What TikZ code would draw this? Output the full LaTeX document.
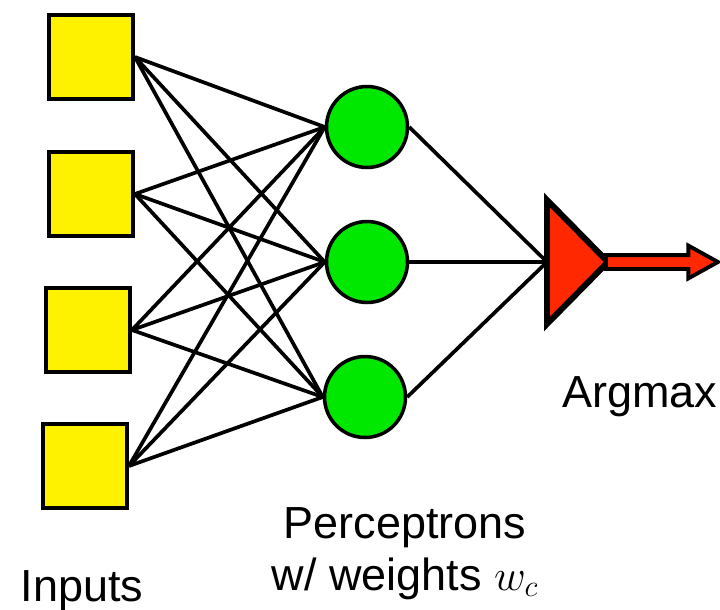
\documentclass[tikz,border=0pt]{standalone}
\usepackage{amsmath}
\usepackage{fontspec}
\setmainfont{Liberation Sans}
\usepackage{tikz}
\usetikzlibrary{shapes.geometric,shapes.arrows}
\definecolor{inyellow}{RGB}{255,242,0}
\definecolor{pgreen}{RGB}{0,232,0}
\definecolor{amred}{RGB}{255,40,0}
\tikzset{
  inbox/.style={draw, line width=2.2pt, fill=inyellow, minimum size=1.68cm, inner sep=0},
  percep/.style={circle, draw, line width=2pt, fill=pgreen, minimum size=1.62cm, inner sep=0},
  wire/.style={line width=2.1pt},
  lbl/.style={font=\fontsize{25.6}{29.6}\selectfont, inner sep=0}
}
\begin{document}
\begin{tikzpicture}[x=0.02cm,y=-0.02cm]
			\useasboundingbox (0,0) rectangle (720,609);
			% inputs
			\node[inbox] (in1) at (91,57) {};
			\node[inbox] (in2) at (91,194) {};
			\node[inbox] (in3) at (88,330) {};
			\node[inbox] (in4) at (85,466) {};
			% perceptrons
			\node[percep] (p1) at (367,127) {};
			\node[percep] (p2) at (367,262) {};
			\node[percep] (p3) at (365,397) {};
			% argmax
			\node[isosceles triangle, isosceles triangle stretches, draw, line width=3.4pt, fill=amred, outer sep=0,
				minimum height=1.22cm, minimum width=2.48cm, inner sep=0, anchor=lower side] (am) at (547,262) {};
			\node[single arrow, draw, line width=2.2pt, fill=amred, inner xsep=0, inner ysep=0.1cm, outer sep=0,
				single arrow head extend=0.19cm, single arrow tip angle=58, minimum height=2.24cm, anchor=tail] (out) at ([xshift=-0.04cm]am.apex) {};
			% wires
			\foreach \i in {1,...,4}
				\foreach \j in {1,2,3}
					\draw[wire] (in\i.east) -- (p\j.west);
			\foreach \j in {1,2,3}
				\draw[wire] (p\j.east) -- (am.west);
			% labels
			\node[lbl, anchor=base] (inlbl) at (82,601) {Inputs};
			\node[lbl, anchor=base] (amlbl) at (640,407) {Argmax};
			\node[lbl, anchor=base, align=center] (plbl) at (405,590) {Perceptrons\\w/ weights $w_c$};
		\end{tikzpicture}
\end{document}
